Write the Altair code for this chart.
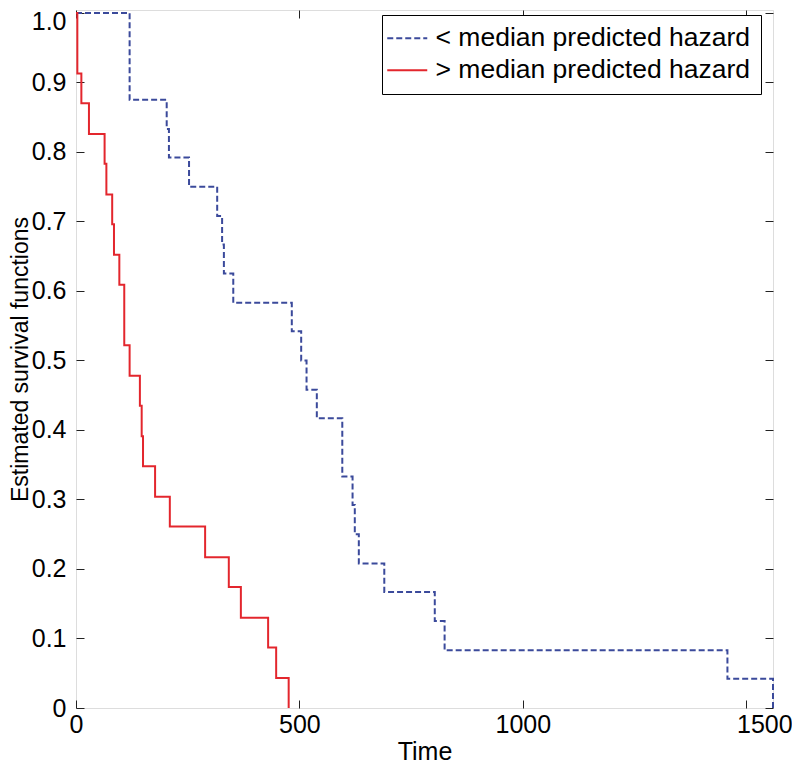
import altair as alt
import pandas as pd

# Kaplan-Meier step points
blue_t = [0, 120, 203, 208, 253, 316, 327, 331, 352, 483, 504, 516, 539, 596,
          619, 624, 633, 690, 803, 825, 1458, 1560]
blue_s = [1.0, 0.875, 0.833, 0.792, 0.750, 0.708, 0.667, 0.625, 0.583, 0.542,
          0.500, 0.458, 0.417, 0.333, 0.292, 0.250, 0.208, 0.167, 0.125, 0.083,
          0.042, 0.0]

red_t = [0, 3, 12, 29, 64, 68, 81, 85, 97, 108, 120, 143, 147, 150, 177, 210,
         289, 342, 369, 430, 448, 476]
red_s = [1.0, 0.913, 0.870, 0.826, 0.783, 0.739, 0.696, 0.652, 0.609, 0.522,
         0.478, 0.435, 0.391, 0.348, 0.304, 0.261, 0.217, 0.174, 0.130, 0.087,
         0.043, 0.0]

lab_lo = "< median predicted hazard"
lab_hi = "> median predicted hazard"
groups = [lab_lo, lab_hi]
colors = ["#3b4a9b", "#e3262d"]
dashes = [[6, 3], [1, 0]]

x_ticks = [0, 500, 1000, 1500]
y_ticks = [0, 0.1, 0.2, 0.3, 0.4, 0.5, 0.6, 0.7, 0.8, 0.9, 1.0]

df = pd.concat([
    pd.DataFrame({"time": blue_t, "surv": blue_s, "group": lab_lo,
                  "order": list(range(len(blue_t)))}),
    pd.DataFrame({"time": red_t, "surv": red_s, "group": lab_hi,
                  "order": list(range(len(red_t)))}),
], ignore_index=True)

FONT = "Liberation Sans"
xs = alt.Scale(domain=[0, 1560], nice=False, zero=False)
ys = alt.Scale(domain=[0, 1.0043], nice=False)

common = dict(grid=False, domain=False, tickSize=8, offset=-8, tickColor="#222",
              tickWidth=1, labelFont=FONT, titleFont=FONT, labelColor="black",
              titleColor="black", titleFontWeight="normal", labelFlush=False,
              labelOverlap=False, labelBound=False)

ax_bottom = alt.Axis(orient="bottom", values=x_ticks, format="d",
                     title="Time", titleFontSize=25, titlePadding=2,
                     labelFontSize=25, labelPadding=4,
                     labelAlign={"condition": {"test": "datum.value == 1500", "value": "right"},
                                 "value": "center"},
                     labelOffset={"condition": {"test": "datum.value == 1500", "value": 46},
                                  "value": 0},
                     **common)
ax_left = alt.Axis(orient="left", values=y_ticks,
                   labelExpr="datum.value == 0 ? '0' : format(datum.value, '.1f')",
                   labelOffset={"condition": {"test": "datum.value == 1", "value": 9},
                                "value": 0},
                   title="Estimated survival functions", titleFontSize=23,
                   titlePadding=-1, labelFontSize=25, labelPadding=10, **common)
ax_top = alt.Axis(orient="top", values=x_ticks, labels=False, title=None, **common)
ax_right = alt.Axis(orient="right", values=y_ticks, labels=False, title=None, **common)

leg = alt.Legend(title=None, orient="none", legendX=306, legendY=5,
                 labelFont=FONT, labelFontSize=26.5, labelColor="black",
                 symbolType="M-2,0H2", symbolSize=400, symbolStrokeWidth=2,
                 symbolOffset=2, labelOffset=15, rowPadding=5, padding=10,
                 strokeColor="black", fillColor="white", labelLimit=1000)

main = alt.Chart(df).mark_line(interpolate="step-after", strokeWidth=2).encode(
    x=alt.X("time:Q", scale=xs, axis=ax_bottom),
    y=alt.Y("surv:Q", scale=ys, axis=ax_left),
    color=alt.Color("group:N", scale=alt.Scale(domain=groups, range=colors), legend=leg),
    strokeDash=alt.StrokeDash("group:N", scale=alt.Scale(domain=groups, range=dashes), legend=leg),
    order="order:Q",
)

mirror = alt.Chart(df).mark_point(opacity=0).encode(
    x=alt.X("time:Q", scale=xs, axis=ax_top),
    y=alt.Y("surv:Q", scale=ys, axis=ax_right),
)

chart = alt.layer(main, mirror).resolve_axis(x="independent", y="independent").properties(
    width=697, height=698,
    autosize=alt.AutoSizeParams(type="none"),
    padding={"left": 68, "top": 2, "right": 19, "bottom": 56},
).configure_view(stroke="#222", strokeWidth=1).configure(background="white")

chart.save("out.html", embed_options={"renderer": "svg", "actions": False})
